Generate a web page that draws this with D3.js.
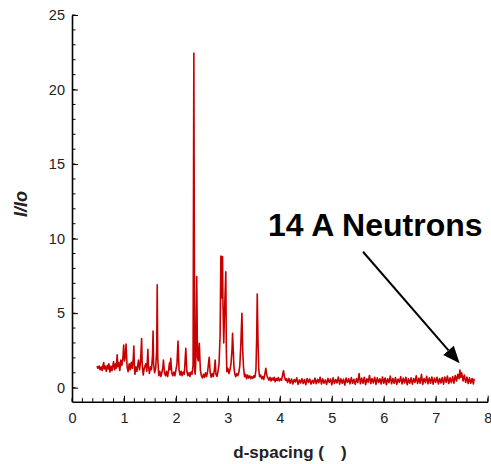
<!DOCTYPE html>
<html><head><meta charset="utf-8">
<script src="https://cdn.jsdelivr.net/npm/d3@7"></script>
<style>
html,body{margin:0;padding:0;background:#fff;}
svg{display:block;font-family:Arial,"Liberation Sans",sans-serif;}
</style></head>
<body><svg id="chart" width="491" height="464"></svg>
<script>
// ---- data ----
const xTicks = [0,1,2,3,4,5,6,7,8];
const yTicks = [0,5,10,15,20,25];
const xLabel = "d-spacing (\u2002\u2002)";
const yLabel = "I/Io";
const annotationText = "14 A Neutrons";
const arrowFrom = [5.60, 9.12];
const arrowTo = [7.46, 1.64];

// low-d region with many small reflections
const spectrumLow = [
[0.48,1.45],[0.50,1.30],[0.52,1.45],[0.54,1.20],[0.56,1.40],[0.58,1.15],[0.60,1.55],[0.61,1.68],
[0.62,1.25],[0.64,1.45],[0.66,1.10],[0.68,1.50],[0.70,1.25],[0.71,1.60],[0.73,1.05],[0.75,1.45],
[0.77,1.15],[0.79,1.55],[0.80,1.75],[0.82,1.20],[0.84,1.60],[0.85,1.30],[0.87,2.20],[0.88,1.40],
[0.90,1.70],[0.92,1.15],[0.94,1.85],[0.96,1.50],[0.98,2.00],[0.995,2.86],[1.01,1.80],[1.03,2.20],
[1.04,2.93],[1.06,1.40],[1.08,1.07],[1.10,1.60],[1.12,1.20],[1.14,1.70],[1.16,1.30],[1.18,2.00],
[1.19,2.80],[1.20,1.50],[1.21,0.90],[1.23,1.40],[1.25,1.10],[1.27,1.60],[1.28,1.86],[1.30,1.20],
[1.32,1.80],[1.34,3.30],[1.35,1.60],[1.37,0.85],[1.39,1.30],[1.42,1.60],[1.44,1.10],[1.46,2.57],
[1.47,1.50],[1.49,0.96],[1.51,1.40],[1.53,1.20],[1.55,2.20],[1.56,3.80],[1.57,1.60],[1.59,1.00],
[1.61,1.30],[1.63,2.50],[1.64,6.90],[1.65,2.00],[1.67,0.80],[1.69,1.10],[1.71,0.75],[1.73,1.00],
[1.75,1.40],[1.76,1.86],[1.78,1.00],[1.80,0.80],[1.82,1.10],[1.84,0.75],[1.86,1.20],[1.875,1.65],
[1.885,1.20],[1.90,1.97],[1.92,1.00],[1.94,0.80],[1.96,1.05],[1.98,0.80],[2.00,1.20],[2.02,1.60]
];
// main reflections region
const spectrumMid = [
[2.04,3.13],[2.06,1.20],[2.08,0.85],[2.10,1.10],[2.12,0.80],[2.14,1.05],[2.16,0.90],[2.17,1.40],
[2.19,2.64],[2.21,1.10],[2.23,0.80],[2.25,1.00],[2.27,0.75],[2.29,1.05],[2.31,0.90],[2.33,1.50],
[2.345,22.45],[2.36,1.20],[2.37,0.90],[2.38,1.60],[2.40,7.45],[2.415,2.00],[2.43,1.80],[2.45,2.98],
[2.47,1.20],[2.49,0.80],[2.51,0.65],[2.53,0.90],[2.55,0.70],[2.57,1.00],[2.59,0.75],[2.61,1.10],
[2.62,1.40],[2.64,2.04],[2.66,1.00],[2.68,0.70],[2.70,0.95],[2.72,0.75],[2.74,1.20],[2.755,1.86],
[2.77,0.90],[2.79,0.75],[2.81,1.10],[2.83,1.60],[2.85,3.50],[2.865,8.83],[2.875,6.00],[2.885,7.80],
[2.897,8.80],[2.905,5.70],[2.92,3.00],[2.935,5.00],[2.96,7.78],[2.97,2.50],[2.98,1.07],[3.00,1.30],
[3.02,0.95],[3.04,1.20],[3.06,1.60],[3.08,2.60],[3.09,3.65],[3.10,2.80],[3.115,1.50],[3.13,0.97],
[3.15,0.74],[3.17,0.95],[3.19,0.80],[3.21,1.00],[3.23,1.50],[3.25,3.00],[3.27,4.99],[3.285,2.50],
[3.30,1.40],[3.32,0.74],[3.34,0.90],[3.36,0.60],[3.38,0.85],[3.40,0.65],[3.42,0.80],[3.44,0.60],
[3.46,0.75],[3.48,0.62],[3.50,0.80],[3.52,0.70],[3.54,1.20],[3.555,3.50],[3.565,6.28],[3.58,3.00],
[3.595,1.20],[3.61,0.74],[3.63,0.85],[3.65,0.60],[3.67,0.75],[3.69,0.55],[3.71,0.90],[3.73,1.30],
[3.75,0.80],[3.77,0.65],[3.79,0.50],[3.81,0.70],[3.83,0.45],[3.85,0.65],[3.87,0.50],[3.89,0.70],
[3.91,0.40],[3.93,0.62],[3.95,0.48],[3.97,0.68],[3.99,0.45],[4.01,0.60],[4.03,0.50],[4.05,0.80],
[4.07,1.14],[4.09,0.70],[4.11,0.50],[4.13,0.60]
];
// flat high-d tail
const spectrumHigh = [
[4.150,0.35],[4.175,0.62],[4.200,0.30],[4.225,0.58],[4.250,0.25],[4.275,0.55],[4.300,0.38],[4.325,0.66],
[4.350,0.22],[4.375,0.52],[4.400,0.32],[4.425,0.60],[4.450,0.28],[4.475,0.55],[4.500,0.20],[4.525,0.62],
[4.550,0.35],[4.575,0.58],[4.600,0.24],[4.625,0.50],[4.650,0.30],[4.675,0.64],[4.700,0.26],[4.725,0.56],
[4.750,0.33],[4.775,0.70],[4.800,0.25],[4.825,0.60],[4.850,0.30],[4.875,0.52],[4.900,0.22],[4.925,0.63],
[4.950,0.35],[4.975,0.58],[5.000,0.20],[5.025,0.66],[5.050,0.28],[5.075,0.55],[5.100,0.32],[5.125,0.72],
[5.150,0.24],[5.175,0.60],[5.200,0.30],[5.225,0.57],[5.250,0.18],[5.275,0.65],[5.300,0.35],[5.325,0.60],
[5.350,0.26],[5.375,0.68],[5.400,0.30],[5.425,0.56],[5.450,0.22],[5.475,0.62],[5.500,0.34],[5.525,0.95],
[5.550,0.26],[5.575,0.64],[5.600,0.30],[5.625,0.70],[5.650,0.20],[5.675,0.60],[5.700,0.36],[5.725,0.82],
[5.750,0.28],[5.775,0.62],[5.800,0.32],[5.825,0.70],[5.850,0.22],[5.875,0.66],[5.900,0.35],[5.925,0.60],
[5.950,0.25],[5.975,0.72],[6.000,0.30],[6.025,0.65],[6.050,0.20],[6.075,0.60],[6.100,0.34],[6.125,0.78],
[6.150,0.26],[6.175,0.62],[6.200,0.30],[6.225,0.68],[6.250,0.22],[6.275,0.58],[6.300,0.36],[6.325,0.74],
[6.350,0.25],[6.375,0.64],[6.400,0.32],[6.425,0.70],[6.450,0.20],[6.475,0.60],[6.500,0.30],[6.525,0.66],
[6.550,0.24],[6.575,0.62],[6.600,0.35],[6.625,0.80],[6.650,0.28],[6.675,0.64],[6.700,0.30],[6.725,0.90],
[6.750,0.22],[6.775,0.62],[6.800,0.34],[6.825,0.76],[6.850,0.26],[6.875,0.66],[6.900,0.30],[6.925,0.72],
[6.950,0.24],[6.975,0.64],[7.000,0.36],[7.025,0.70],[7.050,0.25],[7.075,0.62],[7.100,0.32],[7.125,0.68],
[7.150,0.24],[7.175,0.72],[7.200,0.36],[7.225,0.78],[7.250,0.28],[7.275,0.66],[7.300,0.34],[7.325,0.74],
[7.350,0.30],[7.375,0.82],[7.400,0.45],[7.425,0.90],[7.450,0.60],[7.465,1.19],[7.480,0.70],[7.500,1.00],
[7.525,0.45],[7.550,0.85],[7.575,0.35],[7.600,0.72],[7.625,0.28],[7.650,0.66],[7.675,0.30],[7.700,0.62],
[7.725,0.25],[7.740,0.60]
];

// ---- drawing ----
const svg = d3.select("#chart");
const x = d3.scaleLinear().domain([0, 8]).range([72, 487.7]);
const y = d3.scaleLinear().domain([-0.94, 25]).range([401.7, 15]);

const spectrum = spectrumLow.concat(spectrumMid, spectrumHigh);
const line = d3.line().x(d => x(d[0])).y(d => y(d[1]));
svg.append("path").datum(spectrum)
  .attr("d", line).attr("fill", "none")
  .attr("stroke", "#c80000").attr("stroke-width", 1.6)
  .attr("stroke-linejoin", "round");

// minor ticks
const xMinor = d3.range(0, 8.001, 0.2);
const yMinor = d3.range(0, 25.001, 1);
svg.append("g").selectAll("line").data(xMinor).join("line")
  .attr("x1", d => x(d)).attr("x2", d => x(d))
  .attr("y1", 401.7).attr("y2", 398.2)
  .attr("stroke", "#000").attr("stroke-width", 1);
svg.append("g").selectAll("line").data(yMinor).join("line")
  .attr("y1", d => y(d)).attr("y2", d => y(d))
  .attr("x1", 72).attr("x2", 75.5)
  .attr("stroke", "#000").attr("stroke-width", 1);

const xAxis = svg.append("g").attr("transform", "translate(0,401.7)")
  .call(d3.axisBottom(x).tickValues(xTicks).tickSize(-6).tickSizeOuter(0).tickPadding(11).tickFormat(d3.format("d")));
const yAxis = svg.append("g").attr("transform", "translate(72,0)")
  .call(d3.axisLeft(y).tickValues(yTicks).tickSize(-6).tickSizeOuter(0).tickPadding(7).tickFormat(d3.format("d")));
[xAxis, yAxis].forEach(g => {
  g.select(".domain").attr("stroke", "#000").attr("stroke-width", 1.6);
  g.selectAll(".tick line").attr("stroke", "#000").attr("stroke-width", 1);
  g.selectAll("text").attr("font-family", "Arial, 'Liberation Sans', sans-serif")
    .attr("font-size", 14.5).attr("fill", "#222");
});

// axis titles
svg.append("text").attr("x", 290).attr("y", 458)
  .attr("text-anchor", "middle").attr("font-weight", "bold").attr("font-size", 17)
  .style("white-space", "pre").attr("fill", "#222").text(xLabel);
svg.append("text").attr("transform", "translate(27,204) rotate(-90)")
  .attr("text-anchor", "middle").attr("font-weight", "bold").attr("font-style", "italic")
  .attr("font-size", 18).attr("fill", "#222").text(yLabel);

// annotation
svg.append("text").attr("x", 268).attr("y", 236)
  .attr("font-weight", "bold").attr("font-size", 32).attr("fill", "#000")
  .text(annotationText);
const x0 = x(arrowFrom[0]), y0 = y(arrowFrom[1]);
const x1 = x(arrowTo[0]), y1 = y(arrowTo[1]);
const ang = Math.atan2(y1 - y0, x1 - x0);
const headLen = 17, headHalf = 7;
const bx = x1 - headLen * Math.cos(ang), by = y1 - headLen * Math.sin(ang);
svg.append("line").attr("x1", x0).attr("y1", y0).attr("x2", bx).attr("y2", by)
  .attr("stroke", "#000").attr("stroke-width", 2);
svg.append("polygon").attr("points", [
  [x1, y1],
  [bx + headHalf * Math.sin(ang), by - headHalf * Math.cos(ang)],
  [bx - headHalf * Math.sin(ang), by + headHalf * Math.cos(ang)]
].map(p => p.join(",")).join(" ")).attr("fill", "#000");
</script></body></html>
